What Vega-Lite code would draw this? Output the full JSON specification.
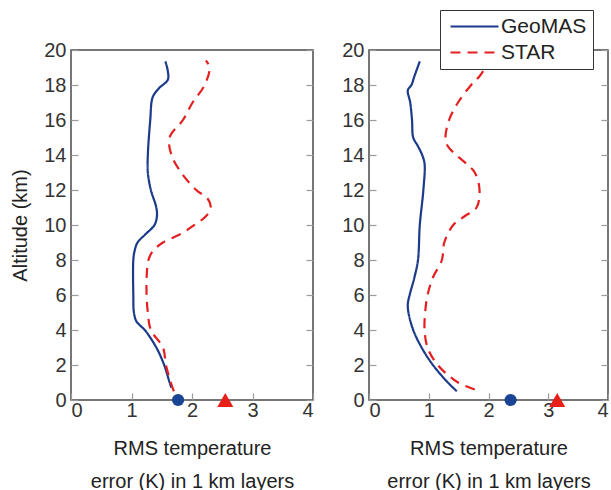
{
  "$schema": "https://vega.github.io/schema/vega-lite/v6.json",
  "padding": {"left": 10, "top": 8, "right": 0, "bottom": 0},
  "autosize": {"type": "pad"},
  "bounds": "flush",
  "spacing": 56,
  "background": "white",
  "datasets": {
    "profiles": [
      {"panel": "a", "series": "GeoMAS", "alt": 19.35, "rms": 1.56},
      {"panel": "a", "series": "GeoMAS", "alt": 18.8, "rms": 1.6},
      {"panel": "a", "series": "GeoMAS", "alt": 18.3, "rms": 1.6},
      {"panel": "a", "series": "GeoMAS", "alt": 17.8, "rms": 1.45},
      {"panel": "a", "series": "GeoMAS", "alt": 17.3, "rms": 1.35},
      {"panel": "a", "series": "GeoMAS", "alt": 16, "rms": 1.31},
      {"panel": "a", "series": "GeoMAS", "alt": 14, "rms": 1.27},
      {"panel": "a", "series": "GeoMAS", "alt": 13, "rms": 1.27},
      {"panel": "a", "series": "GeoMAS", "alt": 12, "rms": 1.32},
      {"panel": "a", "series": "GeoMAS", "alt": 11, "rms": 1.41},
      {"panel": "a", "series": "GeoMAS", "alt": 10.5, "rms": 1.42},
      {"panel": "a", "series": "GeoMAS", "alt": 10, "rms": 1.38},
      {"panel": "a", "series": "GeoMAS", "alt": 9.5, "rms": 1.24},
      {"panel": "a", "series": "GeoMAS", "alt": 9, "rms": 1.1},
      {"panel": "a", "series": "GeoMAS", "alt": 8.5, "rms": 1.05},
      {"panel": "a", "series": "GeoMAS", "alt": 8, "rms": 1.03},
      {"panel": "a", "series": "GeoMAS", "alt": 6, "rms": 1.03},
      {"panel": "a", "series": "GeoMAS", "alt": 5, "rms": 1.04},
      {"panel": "a", "series": "GeoMAS", "alt": 4.5, "rms": 1.08},
      {"panel": "a", "series": "GeoMAS", "alt": 4.2, "rms": 1.16},
      {"panel": "a", "series": "GeoMAS", "alt": 4, "rms": 1.22},
      {"panel": "a", "series": "GeoMAS", "alt": 3, "rms": 1.41},
      {"panel": "a", "series": "GeoMAS", "alt": 2, "rms": 1.54},
      {"panel": "a", "series": "GeoMAS", "alt": 1, "rms": 1.63},
      {"panel": "a", "series": "GeoMAS", "alt": 0.7, "rms": 1.66},
      {"panel": "a", "series": "STAR", "alt": 19.4, "rms": 2.23},
      {"panel": "a", "series": "STAR", "alt": 19, "rms": 2.29},
      {"panel": "a", "series": "STAR", "alt": 18, "rms": 2.21},
      {"panel": "a", "series": "STAR", "alt": 17, "rms": 2.01},
      {"panel": "a", "series": "STAR", "alt": 16, "rms": 1.85},
      {"panel": "a", "series": "STAR", "alt": 15, "rms": 1.63},
      {"panel": "a", "series": "STAR", "alt": 14, "rms": 1.66},
      {"panel": "a", "series": "STAR", "alt": 13, "rms": 1.82},
      {"panel": "a", "series": "STAR", "alt": 12, "rms": 2.07},
      {"panel": "a", "series": "STAR", "alt": 11.5, "rms": 2.26},
      {"panel": "a", "series": "STAR", "alt": 11, "rms": 2.31},
      {"panel": "a", "series": "STAR", "alt": 10.5, "rms": 2.23},
      {"panel": "a", "series": "STAR", "alt": 10, "rms": 2.04},
      {"panel": "a", "series": "STAR", "alt": 9.5, "rms": 1.82},
      {"panel": "a", "series": "STAR", "alt": 9, "rms": 1.52},
      {"panel": "a", "series": "STAR", "alt": 8.5, "rms": 1.35},
      {"panel": "a", "series": "STAR", "alt": 8, "rms": 1.28},
      {"panel": "a", "series": "STAR", "alt": 7, "rms": 1.25},
      {"panel": "a", "series": "STAR", "alt": 6, "rms": 1.25},
      {"panel": "a", "series": "STAR", "alt": 5, "rms": 1.27},
      {"panel": "a", "series": "STAR", "alt": 4, "rms": 1.32},
      {"panel": "a", "series": "STAR", "alt": 3, "rms": 1.52},
      {"panel": "a", "series": "STAR", "alt": 2, "rms": 1.57},
      {"panel": "a", "series": "STAR", "alt": 1, "rms": 1.65},
      {"panel": "a", "series": "STAR", "alt": 0.5, "rms": 1.7},
      {"panel": "b", "series": "GeoMAS", "alt": 19.35, "rms": 0.85},
      {"panel": "b", "series": "GeoMAS", "alt": 18.5, "rms": 0.76},
      {"panel": "b", "series": "GeoMAS", "alt": 18, "rms": 0.71},
      {"panel": "b", "series": "GeoMAS", "alt": 17.7, "rms": 0.65},
      {"panel": "b", "series": "GeoMAS", "alt": 17, "rms": 0.69},
      {"panel": "b", "series": "GeoMAS", "alt": 16, "rms": 0.72},
      {"panel": "b", "series": "GeoMAS", "alt": 15, "rms": 0.74},
      {"panel": "b", "series": "GeoMAS", "alt": 14.5, "rms": 0.82},
      {"panel": "b", "series": "GeoMAS", "alt": 14, "rms": 0.89},
      {"panel": "b", "series": "GeoMAS", "alt": 13.5, "rms": 0.93},
      {"panel": "b", "series": "GeoMAS", "alt": 12, "rms": 0.91},
      {"panel": "b", "series": "GeoMAS", "alt": 10, "rms": 0.85},
      {"panel": "b", "series": "GeoMAS", "alt": 8, "rms": 0.82},
      {"panel": "b", "series": "GeoMAS", "alt": 7, "rms": 0.76},
      {"panel": "b", "series": "GeoMAS", "alt": 6, "rms": 0.68},
      {"panel": "b", "series": "GeoMAS", "alt": 5.5, "rms": 0.65},
      {"panel": "b", "series": "GeoMAS", "alt": 5, "rms": 0.66},
      {"panel": "b", "series": "GeoMAS", "alt": 4, "rms": 0.74},
      {"panel": "b", "series": "GeoMAS", "alt": 3, "rms": 0.88},
      {"panel": "b", "series": "GeoMAS", "alt": 2, "rms": 1.07},
      {"panel": "b", "series": "GeoMAS", "alt": 1, "rms": 1.32},
      {"panel": "b", "series": "GeoMAS", "alt": 0.5, "rms": 1.47},
      {"panel": "b", "series": "STAR", "alt": 19.4, "rms": 2.02},
      {"panel": "b", "series": "STAR", "alt": 18.5, "rms": 1.85},
      {"panel": "b", "series": "STAR", "alt": 18, "rms": 1.71},
      {"panel": "b", "series": "STAR", "alt": 17, "rms": 1.49},
      {"panel": "b", "series": "STAR", "alt": 16, "rms": 1.34},
      {"panel": "b", "series": "STAR", "alt": 15, "rms": 1.28},
      {"panel": "b", "series": "STAR", "alt": 14.5, "rms": 1.32},
      {"panel": "b", "series": "STAR", "alt": 14, "rms": 1.46},
      {"panel": "b", "series": "STAR", "alt": 13.5, "rms": 1.63},
      {"panel": "b", "series": "STAR", "alt": 13, "rms": 1.77},
      {"panel": "b", "series": "STAR", "alt": 12, "rms": 1.85},
      {"panel": "b", "series": "STAR", "alt": 11, "rms": 1.8},
      {"panel": "b", "series": "STAR", "alt": 10.5, "rms": 1.6},
      {"panel": "b", "series": "STAR", "alt": 10, "rms": 1.41},
      {"panel": "b", "series": "STAR", "alt": 9, "rms": 1.26},
      {"panel": "b", "series": "STAR", "alt": 8, "rms": 1.22},
      {"panel": "b", "series": "STAR", "alt": 7, "rms": 1.07},
      {"panel": "b", "series": "STAR", "alt": 6, "rms": 0.98},
      {"panel": "b", "series": "STAR", "alt": 5, "rms": 0.94},
      {"panel": "b", "series": "STAR", "alt": 4, "rms": 0.93},
      {"panel": "b", "series": "STAR", "alt": 3, "rms": 0.98},
      {"panel": "b", "series": "STAR", "alt": 2, "rms": 1.15},
      {"panel": "b", "series": "STAR", "alt": 1, "rms": 1.49},
      {"panel": "b", "series": "STAR", "alt": 0.6, "rms": 1.77}
    ],
    "markers": [
      {"panel": "a", "marker": "GeoMAS surface", "alt": 0, "rms": 1.77},
      {"panel": "a", "marker": "STAR surface", "alt": 0, "rms": 2.55},
      {"panel": "b", "marker": "GeoMAS surface", "alt": 0, "rms": 2.37},
      {"panel": "b", "marker": "STAR surface", "alt": 0, "rms": 3.15}
    ]
  },
  "config": {
    "font": "Liberation Sans",
    "view": {"stroke": "#4a4a4a", "strokeWidth": 1.5},
    "axis": {
      "domain": false,
      "grid": false,
      "labelFont": "Liberation Sans",
      "labelFontSize": 20,
      "labelColor": "#333333",
      "titleFont": "Liberation Sans",
      "titleFontSize": 20,
      "titleFontWeight": "normal",
      "titleColor": "#222222",
      "tickColor": "#9a9a9a",
      "tickWidth": 1.2,
      "tickSize": -7
    }
  },
  "resolve": {"scale": {"color": "independent", "strokeDash": "independent", "fill": "independent", "shape": "independent", "size": "independent"}},
  "hconcat": [
    {
      "width": 242,
      "height": 350,
      "resolve": {"axis": {"y": "independent"}},
      "layer": [
        {
          "data": {"name": "profiles"},
          "transform": [{"filter": "datum.panel === 'a'"}],
          "mark": {"type": "line", "strokeWidth": 2.2, "interpolate": "catmull-rom"},
          "encoding": {
            "x": {"field": "rms", "type": "quantitative", "scale": {"domain": [0, 4], "nice": false},
              "axis": {"values": [0, 1, 2, 3, 4], "format": "d", "title": ["RMS temperature", "error (K) in 1 km layers"], "labelPadding": 7, "titlePadding": 18, "titleLineHeight": 33}},
            "y": {"field": "alt", "type": "quantitative", "scale": {"domain": [0, 20], "nice": false},
              "axis": {"values": [0, 2, 4, 6, 8, 10, 12, 14, 16, 18, 20], "title": "Altitude (km)", "labelPadding": 12, "titlePadding": 13}},
            "order": {"field": "alt", "type": "quantitative"},
            "color": {"field": "series", "type": "nominal", "scale": {"domain": ["GeoMAS", "STAR"], "range": ["#1b3a8a", "#e51f1f"]}, "legend": null},
            "strokeDash": {"field": "series", "type": "nominal", "scale": {"domain": ["GeoMAS", "STAR"], "range": [[1, 0], [10, 7]]}, "legend": null}
          }
        },
        {
          "data": {"name": "markers"},
          "transform": [{"filter": "datum.panel === 'a'"}],
          "mark": {"type": "point", "filled": true, "opacity": 1, "strokeWidth": 0},
          "encoding": {
            "x": {"field": "rms", "type": "quantitative"},
            "y": {"field": "alt", "type": "quantitative",
              "axis": {"orient": "right", "labels": false, "title": null, "values": [0, 2, 4, 6, 8, 10, 12, 14, 16, 18, 20]}},
            "fill": {"field": "marker", "type": "nominal", "scale": {"domain": ["GeoMAS surface", "STAR surface"], "range": ["#1a4494", "#e8201a"]}, "legend": null},
            "shape": {"field": "marker", "type": "nominal", "scale": {"domain": ["GeoMAS surface", "STAR surface"], "range": ["circle", "triangle-up"]}, "legend": null},
            "size": {"field": "marker", "type": "nominal", "scale": {"domain": ["GeoMAS surface", "STAR surface"], "range": [150, 260]}, "legend": null}
          }
        }
      ]
    },
    {
      "width": 239,
      "height": 350,
      "resolve": {"axis": {"y": "independent"}},
      "layer": [
        {
          "data": {"name": "profiles"},
          "transform": [{"filter": "datum.panel === 'b'"}],
          "mark": {"type": "line", "strokeWidth": 2.2, "interpolate": "catmull-rom"},
          "encoding": {
            "x": {"field": "rms", "type": "quantitative", "scale": {"domain": [0, 4], "nice": false},
              "axis": {"values": [0, 1, 2, 3, 4], "format": "d", "title": ["RMS temperature", "error (K) in 1 km layers"], "labelPadding": 7, "titlePadding": 18, "titleLineHeight": 33}},
            "y": {"field": "alt", "type": "quantitative", "scale": {"domain": [0, 20], "nice": false},
              "axis": {"values": [0, 2, 4, 6, 8, 10, 12, 14, 16, 18, 20], "title": null, "labelPadding": 12}},
            "order": {"field": "alt", "type": "quantitative"},
            "color": {"field": "series", "type": "nominal", "scale": {"domain": ["GeoMAS", "STAR"], "range": ["#1b3a8a", "#e51f1f"]},
              "legend": {"orient": "none", "legendX": 71, "legendY": -40, "title": null, "symbolType": "M-1,0H7", "symbolSize": 144, "symbolStrokeWidth": 2.2, "labelFontSize": 21, "labelColor": "#222222", "labelFont": "Liberation Sans", "strokeColor": "#333333", "fillColor": "white", "padding": 6, "rowPadding": 4, "labelOffset": 34}},
            "strokeDash": {"field": "series", "type": "nominal", "scale": {"domain": ["GeoMAS", "STAR"], "range": [[1, 0], [10, 7]]},
              "legend": {"orient": "none", "legendX": 71, "legendY": -40, "title": null, "symbolType": "M-1,0H7", "symbolSize": 144, "symbolStrokeWidth": 2.2, "labelFontSize": 21, "labelColor": "#222222", "labelFont": "Liberation Sans", "strokeColor": "#333333", "fillColor": "white", "padding": 6, "rowPadding": 4, "labelOffset": 34}}
          }
        },
        {
          "data": {"name": "markers"},
          "transform": [{"filter": "datum.panel === 'b'"}],
          "mark": {"type": "point", "filled": true, "opacity": 1, "strokeWidth": 0},
          "encoding": {
            "x": {"field": "rms", "type": "quantitative"},
            "y": {"field": "alt", "type": "quantitative",
              "axis": {"orient": "right", "labels": false, "title": null, "values": [0, 2, 4, 6, 8, 10, 12, 14, 16, 18, 20]}},
            "fill": {"field": "marker", "type": "nominal", "scale": {"domain": ["GeoMAS surface", "STAR surface"], "range": ["#1a4494", "#e8201a"]}, "legend": null},
            "shape": {"field": "marker", "type": "nominal", "scale": {"domain": ["GeoMAS surface", "STAR surface"], "range": ["circle", "triangle-up"]}, "legend": null},
            "size": {"field": "marker", "type": "nominal", "scale": {"domain": ["GeoMAS surface", "STAR surface"], "range": [150, 260]}, "legend": null}
          }
        }
      ]
    }
  ]
}
